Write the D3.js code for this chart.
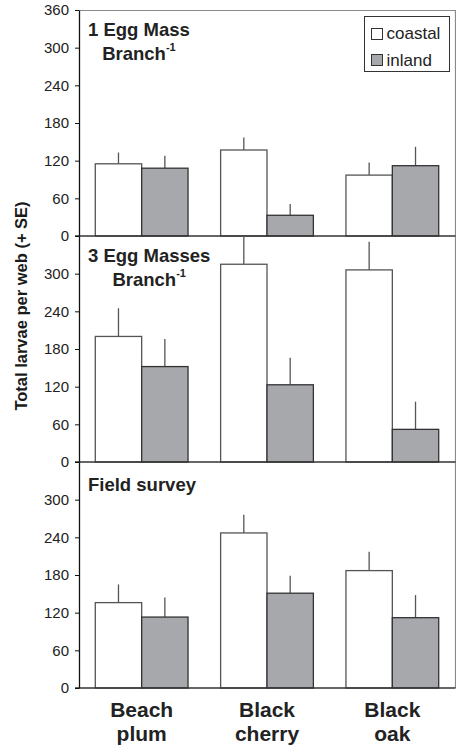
<!DOCTYPE html>
<html>
<head>
<meta charset="utf-8">
<script src="https://cdn.jsdelivr.net/npm/d3@7"></script>
<style>
    body { margin: 0; background: #fff; }
    text { font-family: "Liberation Sans", Arial, sans-serif; }
</style>
</head>
<body>
<svg id="chart" width="456" height="747"></svg>
<script>
const categories = ["Beach plum", "Black cherry", "Black oak"];
const series = ["coastal", "inland"];
const panelTitles = ["1 Egg Mass", "3 Egg Masses", "Field survey"];
const yTicksTop = [0, 60, 120, 180, 240, 300, 360];
const yTicksLower = [0, 60, 120, 180, 240, 300];

// 1 egg mass per branch
const oneEggCoastal = [115, 137, 97];
const oneEggCoastalSE = [18, 20, 20];
const oneEggInland = [108, 33, 112];
const oneEggInlandSE = [20, 18, 30];

// 3 egg masses per branch
const threeEggCoastal = [200, 315, 306];
const threeEggCoastalSE = [45, 50, 45];
const threeEggInland = [152, 123, 52];
const threeEggInlandSE = [44, 43, 44];

// field survey
const fieldCoastal = [136, 247, 187];
const fieldCoastalSE = [29, 29, 30];
const fieldInland = [113, 151, 112];
const fieldInlandSE = [31, 28, 36];

const panels = [
    { title: panelTitles[0], perBranch: true, ticks: yTicksTop,
      coastal: oneEggCoastal, coastalSE: oneEggCoastalSE, inland: oneEggInland, inlandSE: oneEggInlandSE },
    { title: panelTitles[1], perBranch: true, ticks: yTicksLower,
      coastal: threeEggCoastal, coastalSE: threeEggCoastalSE, inland: threeEggInland, inlandSE: threeEggInlandSE },
    { title: panelTitles[2], perBranch: false, ticks: yTicksLower,
      coastal: fieldCoastal, coastalSE: fieldCoastalSE, inland: fieldInland, inlandSE: fieldInlandSE },
];

const plotLeft = 79, plotRight = 455, plotTop = 10, panelH = 226;
const titleDy = [26, 26, 29];
const fills = { coastal: "#ffffff", inland: "#a7a8ac" };
const strokes = { coastal: "#555", inland: "#333" };

const svg = d3.select("#chart");

const x0 = d3.scaleBand()
    .domain(categories)
    .range([plotLeft, plotRight])
    .paddingInner(0.26)
    .paddingOuter(0.13);

const x1 = d3.scaleBand()
    .domain(series)
    .range([0, x0.bandwidth()]);

const plotBottom = plotTop + panels.length * panelH;

// outer frame (top and right)
svg.append("path")
    .attr("d", `M${plotLeft},${plotTop + 0.5}H${plotRight + 0.5}V${plotBottom}`)
    .attr("fill", "none")
    .attr("stroke", "#8a8a8a")
    .attr("stroke-width", 1.2);

panels.forEach((panel, i) => {
    const y = d3.scaleLinear()
        .domain([0, 360])
        .range([plotTop + (i + 1) * panelH, plotTop + i * panelH])
        .clamp(true);

    const g = svg.append("g");

    categories.forEach((cat, j) => {
        series.forEach(s => {
            const v = panel[s][j];
            const se = panel[s + "SE"][j];
            const bx = x0(cat) + x1(s);
            const cx = bx + x1.bandwidth() / 2;

            g.append("line")
                .attr("x1", cx).attr("x2", cx)
                .attr("y1", y(v)).attr("y2", y(v + se))
                .attr("stroke", "#555")
                .attr("stroke-width", 1.3);

            g.append("rect")
                .attr("x", bx)
                .attr("y", y(v))
                .attr("width", x1.bandwidth())
                .attr("height", y(0) - y(v))
                .attr("fill", fills[s])
                .attr("stroke", strokes[s])
                .attr("stroke-width", 1.3);
        });
    });

    // x-axis baseline
    g.append("line")
        .attr("x1", plotLeft - 4).attr("x2", plotRight + 0.5)
        .attr("y1", y(0)).attr("y2", y(0))
        .attr("stroke", "#333")
        .attr("stroke-width", 1.3);

    const axis = g.append("g")
        .attr("transform", `translate(${plotLeft},0)`)
        .call(d3.axisLeft(y).tickValues(panel.ticks).tickSize(4).tickSizeOuter(0).tickPadding(6));
    axis.select(".domain").attr("stroke", "#111").attr("stroke-width", 1.3);
    axis.selectAll(".tick line").attr("stroke", "#111");
    axis.selectAll(".tick text")
        .attr("font-size", 15)
        .attr("fill", "#222")
        .style("font-family", "'Liberation Sans', Arial, sans-serif");

    // panel title
    const t = g.append("text")
        .attr("x", 88)
        .attr("y", plotTop + i * panelH + titleDy[i])
        .attr("font-size", 18.5)
        .attr("font-weight", "bold")
        .attr("fill", "#222")
        .text(panel.title);

    if (panel.perBranch) {
        const w = t.node().getComputedTextLength();
        const t2 = g.append("text")
            .attr("x", 88 + w / 2)
            .attr("y", plotTop + i * panelH + titleDy[i] + 24)
            .attr("text-anchor", "middle")
            .attr("font-size", 18.5)
            .attr("font-weight", "bold")
            .attr("fill", "#222");
        t2.append("tspan").text("Branch");
        t2.append("tspan").attr("dy", -9).attr("font-size", 11).text("-1");
    }
});

// category labels
svg.append("g")
    .selectAll("text")
    .data(categories)
    .join("text")
    .attr("text-anchor", "middle")
    .attr("font-size", 21)
    .attr("font-weight", "bold")
    .attr("fill", "#222")
    .each(function (d) {
        const cx = x0(d) + x0.bandwidth() / 2;
        d3.select(this).selectAll("tspan")
            .data(d.split(" "))
            .join("tspan")
            .attr("x", cx)
            .attr("y", (w, k) => plotBottom + 29 + k * 24)
            .text(w => w);
    });

// y-axis title
svg.append("text")
    .attr("transform", `translate(27,306) rotate(-90)`)
    .attr("text-anchor", "middle")
    .attr("font-size", 16.5)
    .attr("font-weight", "bold")
    .attr("fill", "#1a1a1a")
    .text("Total larvae per web (+ SE)");

// legend
const legend = svg.append("g").attr("transform", "translate(364.5,16.5)");
legend.append("rect")
    .attr("width", 85)
    .attr("height", 55)
    .attr("fill", "#fff")
    .attr("stroke", "#333")
    .attr("stroke-width", 1);

series.forEach((s, k) => {
    legend.append("rect")
        .attr("x", 7)
        .attr("y", 12 + k * 26)
        .attr("width", 11)
        .attr("height", 11)
        .attr("fill", fills[s])
        .attr("stroke", "#333")
        .attr("stroke-width", 1);
    legend.append("text")
        .attr("x", 22)
        .attr("y", 22 + k * 27)
        .attr("font-size", 17)
        .attr("fill", "#222")
        .text(s);
});
</script>
</body>
</html>
